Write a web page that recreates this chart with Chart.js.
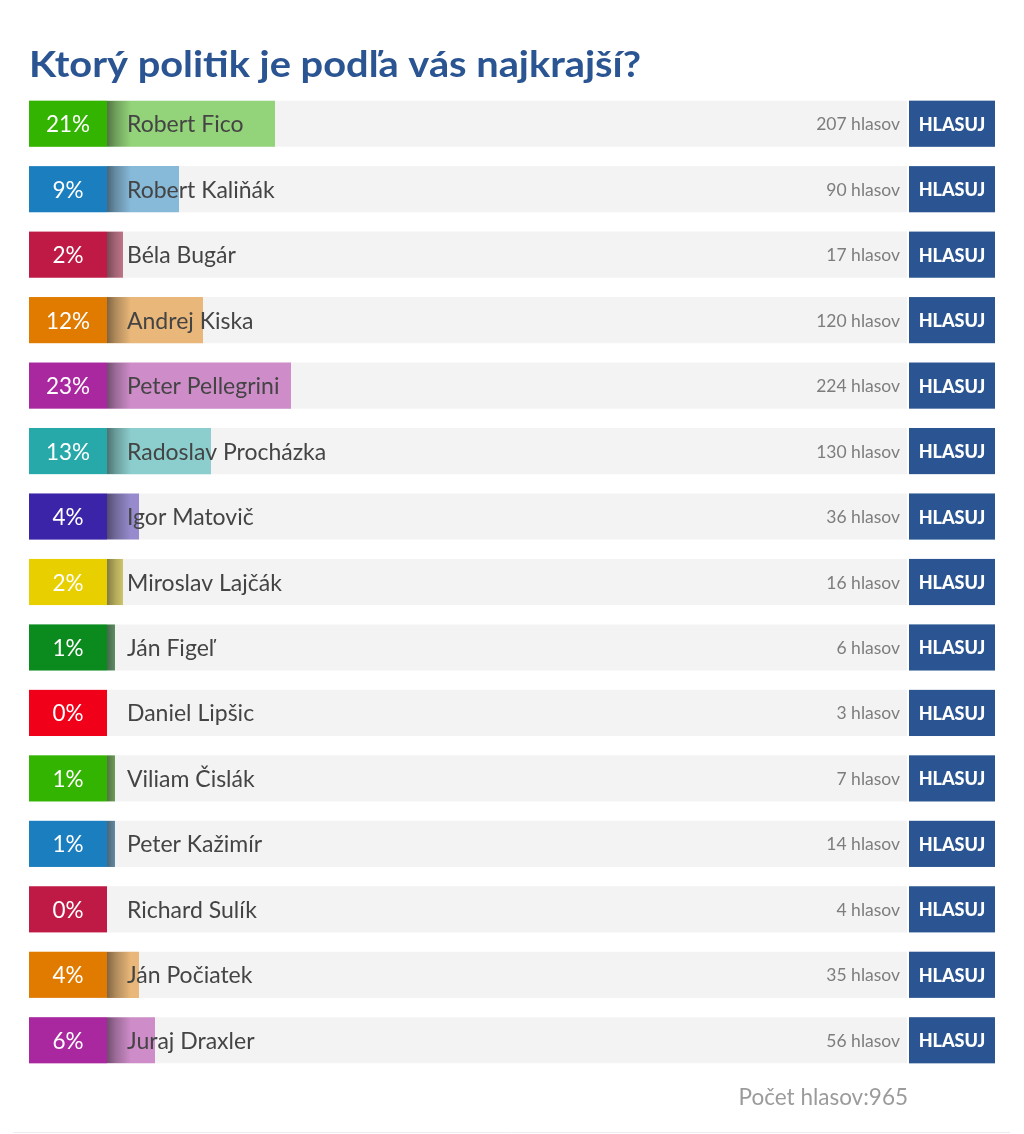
<!DOCTYPE html>
<html lang="sk">
<head>
<meta charset="utf-8">
<title>Ktorý politik je podľa vás najkrajší?</title>
<script src="https://cdn.jsdelivr.net/npm/chart.js@4.4.1/dist/chart.umd.min.js"></script>
<style>
  html, body { margin: 0; padding: 0; background: #fff; }
  canvas { display: block; }
</style>
</head>
<body>
<canvas id="poll" width="1024" height="1134"></canvas>
<script>
(function(){
  const pollTitle = "Ktorý politik je podľa vás najkrajší?";
  const candidates = [
    "Robert Fico", "Robert Kaliňák", "Béla Bugár", "Andrej Kiska", "Peter Pellegrini",
    "Radoslav Procházka", "Igor Matovič", "Miroslav Lajčák", "Ján Figeľ", "Daniel Lipšic",
    "Viliam Čislák", "Peter Kažimír", "Richard Sulík", "Ján Počiatek", "Juraj Draxler"
  ];
  const votes = [207, 90, 17, 120, 224, 130, 36, 16, 6, 3, 7, 14, 4, 35, 56];
  const percents = [21, 9, 2, 12, 23, 13, 4, 2, 1, 0, 1, 1, 0, 4, 6];
  const totalVotes = 965;
  const boxColors = ["#33b400", "#1b7fbf", "#bf1a45", "#e07b00", "#a9289f",
                     "#26a9a8", "#3c24a8", "#e8d000", "#0b8a1e", "#f00019"];

  const FONT = "Lato, 'Open Sans', sans-serif";
  const BLUE = "#2a5592";
  const BOX_W = 78;
  const TITLE_W = 612;

  function colorAt(i) { return boxColors[i % boxColors.length]; }

  function alpha(hex, a) {
    const n = parseInt(hex.slice(1), 16);
    return `rgba(${(n >> 16) & 255},${(n >> 8) & 255},${n & 255},${a})`;
  }

  // boxes, shadow, names, counts, buttons, title, footer
  const pollDecor = {
    id: "pollDecor",
    afterDatasetsDraw(chart) {
      const ctx = chart.ctx;
      const xs = chart.scales.x;
      const x0 = xs.getPixelForValue(0);
      const x100 = xs.getPixelForValue(100);
      const meta = chart.getDatasetMeta(1);

      ctx.save();
      ctx.textBaseline = "alphabetic";
      meta.data.forEach((bar, i) => {
        const h = bar.height;
        const top = bar.y - h / 2;
        const cy = bar.y;

        // dark fade on the left of the bar
        if (bar.x > x0 + 0.5) {
          ctx.save();
          ctx.beginPath();
          ctx.rect(x0, top, bar.x - x0, h);
          ctx.clip();
          const g = ctx.createLinearGradient(x0, 0, x0 + 24, 0);
          g.addColorStop(0, "rgba(0,0,0,0.45)");
          g.addColorStop(0.35, "rgba(0,0,0,0.25)");
          g.addColorStop(1, "rgba(0,0,0,0)");
          ctx.fillStyle = g;
          ctx.fillRect(x0, top, 24, h);
          ctx.restore();
        }

        // percent box
        ctx.fillStyle = colorAt(i);
        ctx.fillRect(x0 - BOX_W, top, BOX_W, h);
        ctx.fillStyle = "#fff";
        ctx.font = `400 22.5px ${FONT}`;
        ctx.textAlign = "center";
        ctx.fillText(percents[i] + "%", x0 - BOX_W / 2, cy + 8.5);

        // name
        ctx.fillStyle = "#444";
        ctx.textAlign = "left";
        ctx.font = `400 23px ${FONT}`;
        ctx.fillText(candidates[i], x0 + 20, cy + 8.5);

        // vote count
        ctx.fillStyle = "#7d7d7d";
        ctx.textAlign = "right";
        ctx.font = `400 17.5px ${FONT}`;
        ctx.fillText(votes[i] + " hlasov", x100 - 7, cy + 6.5);

        // button
        ctx.fillStyle = BLUE;
        ctx.fillRect(x100 + 2, top, 86, h);
        ctx.fillStyle = "#fff";
        ctx.textAlign = "center";
        ctx.font = `900 18px ${FONT}`;
        ctx.fillText("HLASUJ", x100 + 45, cy + 7);
      });

      // title, stretched to the reference width
      ctx.fillStyle = BLUE;
      ctx.textAlign = "left";
      ctx.font = `700 37px ${FONT}`;
      const tw = ctx.measureText(pollTitle).width;
      ctx.save();
      ctx.translate(29, 77);
      ctx.scale(TITLE_W / tw, 1);
      ctx.fillText(pollTitle, 0, 0);
      ctx.restore();

      // footer
      ctx.fillStyle = "#9b9b9b";
      ctx.textAlign = "right";
      ctx.font = `400 22.5px ${FONT}`;
      ctx.fillText("Počet hlasov:" + totalVotes, x100 + 1, 1105);

      ctx.strokeStyle = "#ececec";
      ctx.lineWidth = 1;
      ctx.beginPath();
      ctx.moveTo(13, 1132.5);
      ctx.lineTo(1010, 1132.5);
      ctx.stroke();
      ctx.restore();
    }
  };

  new Chart(document.getElementById("poll"), {
    type: "bar",
    data: {
      labels: candidates,
      datasets: [
        {
          label: "pozadie",
          data: candidates.map(() => 100),
          backgroundColor: "#f3f3f3",
          order: 2,
          grouped: false
        },
        {
          label: "Podiel hlasov",
          data: percents,
          backgroundColor: c => alpha(colorAt(c.dataIndex), 0.5),
          order: 1,
          grouped: false
        }
      ]
    },
    options: {
      indexAxis: "y",
      responsive: false,
      animation: false,
      layout: { padding: { left: 107, right: 117, top: 91, bottom: 61 } },
      datasets: {
        bar: { barPercentage: 1, categoryPercentage: 0.705, borderWidth: 0 }
      },
      scales: {
        x: { min: 0, max: 100, display: false },
        y: { display: false }
      },
      plugins: {
        legend: { display: false },
        tooltip: { enabled: false }
      }
    },
    plugins: [pollDecor]
  });
})();
</script>
</body>
</html>
